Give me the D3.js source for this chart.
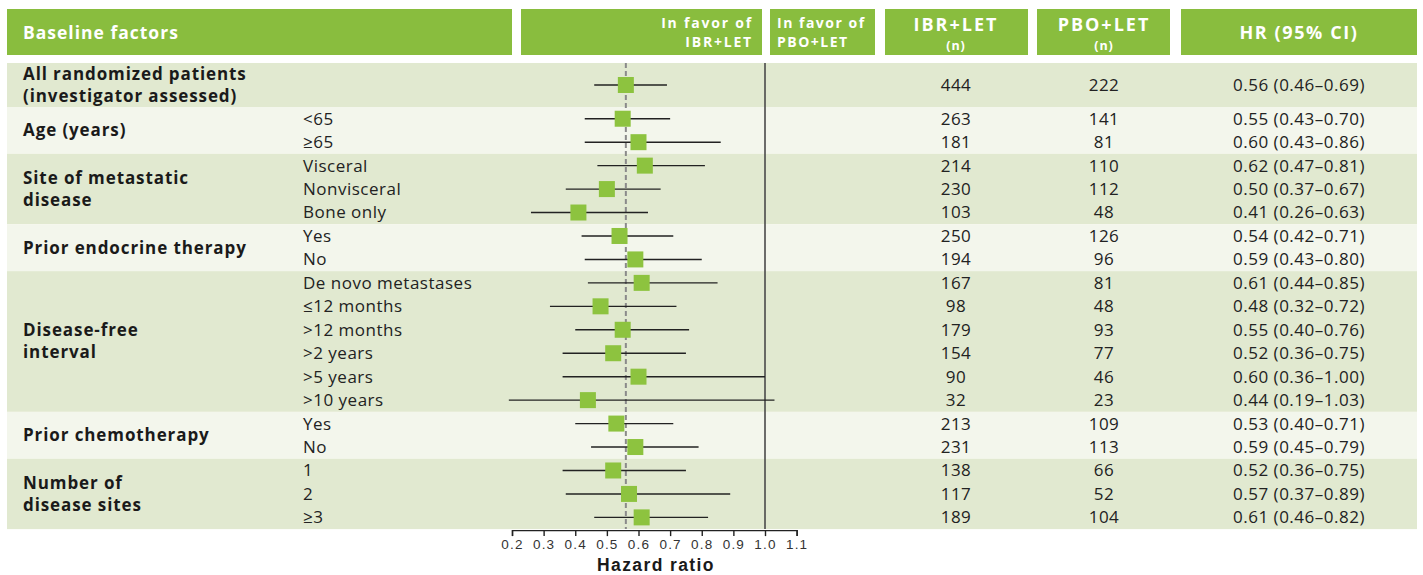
<!DOCTYPE html>
<html>
<head>
<meta charset="utf-8">
<script src="https://cdn.jsdelivr.net/npm/d3@7"></script>
<style>
  html, body { margin: 0; padding: 0; background: #fff; }
  svg { display: block; font-family: "Open Sans", "Noto Sans", sans-serif; }
</style>
</head>
<body>
<svg id="chart" width="1423" height="575"></svg>
<script>
// Forest plot: progression-free survival hazard ratios by baseline subgroup
const groupLabels = [
  ["All randomized patients", "(investigator assessed)"],
  ["Age (years)"],
  ["Site of metastatic", "disease"],
  ["Prior endocrine therapy"],
  ["Disease-free", "interval"],
  ["Prior chemotherapy"],
  ["Number of", "disease sites"]
];
const groupSizes = [1, 2, 3, 2, 6, 2, 3];
const subgroups = ["", "<65", "≥65", "Visceral", "Nonvisceral", "Bone only", "Yes", "No",
  "De novo metastases", "≤12 months", ">12 months", ">2 years", ">5 years", ">10 years",
  "Yes", "No", "1", "2", "≥3"];
const hazardRatio = [0.56, 0.55, 0.60, 0.62, 0.50, 0.41, 0.54, 0.59, 0.61, 0.48, 0.55, 0.52, 0.60, 0.44, 0.53, 0.59, 0.52, 0.57, 0.61];
const ciLow  = [0.46, 0.43, 0.43, 0.47, 0.37, 0.26, 0.42, 0.43, 0.44, 0.32, 0.40, 0.36, 0.36, 0.19, 0.40, 0.45, 0.36, 0.37, 0.46];
const ciHigh = [0.69, 0.70, 0.86, 0.81, 0.67, 0.63, 0.71, 0.80, 0.85, 0.72, 0.76, 0.75, 1.00, 1.03, 0.71, 0.79, 0.75, 0.89, 0.82];
const nIbrLet = [444, 263, 181, 214, 230, 103, 250, 194, 167, 98, 179, 154, 90, 32, 213, 231, 138, 117, 189];
const nPboLet = [222, 141, 81, 110, 112, 48, 126, 96, 81, 48, 93, 77, 46, 23, 109, 113, 66, 52, 104];
const overallHR = 0.56;
const axisTicks = [0.2, 0.3, 0.4, 0.5, 0.6, 0.7, 0.8, 0.9, 1.0, 1.1];

const headerGreen = "#89bd3e";
const squareGreen = "#8dc33f";
const bandDark = "#e1e9d0";
const bandLight = "#f3f6ec";

const svg = d3.select("#chart");

// Row geometry: first row holds a two-line label, the rest are single lines
const tableTop = 63, firstRowH = 44, rowH = 23.45;
const rowTop = [], rowMid = [];
let yy = tableTop;
subgroups.forEach((s, i) => {
  const h = i === 0 ? firstRowH : rowH;
  rowTop.push(yy); rowMid.push(yy + h / 2); yy += h;
});
const tableBottom = yy;

const x = d3.scaleLinear().domain([0.2, 1.0]).range([512, 765]);

// Header boxes
const headers = [
  { x0: 7, x1: 512 }, { x0: 521, x1: 762 }, { x0: 770, x1: 875 },
  { x0: 885, x1: 1028 }, { x0: 1037, x1: 1170 }, { x0: 1181, x1: 1417 }
];
svg.append("g").selectAll("rect").data(headers).join("rect")
  .attr("x", d => d.x0).attr("y", 9).attr("width", d => d.x1 - d.x0).attr("height", 46)
  .attr("fill", headerGreen);

const hdr = svg.append("g").attr("fill", "#fff").attr("font-weight", 700);
hdr.append("text").attr("x", 23).attr("y", 39).attr("font-size", 17.5).attr("letter-spacing", 1).text("Baseline factors");
[["In favor of", 28], ["IBR+LET", 47.3]].forEach(([t, y]) =>
  hdr.append("text").attr("x", 753).attr("y", y).attr("font-size", 14).attr("letter-spacing", 1.8)
    .attr("text-anchor", "end").text(t));
[["In favor of", 28], ["PBO+LET", 47.3]].forEach(([t, y]) =>
  hdr.append("text").attr("x", 777).attr("y", y).attr("font-size", 14).attr("letter-spacing", 1.5).text(t));
[["IBR+LET", 956], ["PBO+LET", 1104]].forEach(([t, cx]) => {
  hdr.append("text").attr("x", cx).attr("y", 31).attr("font-size", 18).attr("letter-spacing", 2)
    .attr("text-anchor", "middle").text(t);
  hdr.append("text").attr("x", cx).attr("y", 50).attr("font-size", 12.5).attr("letter-spacing", 1)
    .attr("text-anchor", "middle").text("(n)");
});
hdr.append("text").attr("x", 1299).attr("y", 39).attr("font-size", 18).attr("letter-spacing", 1.6)
  .attr("text-anchor", "middle").text("HR (95% CI)");

// Group bands and labels
let start = 0;
const groups = groupSizes.map((n, g) => {
  const top = rowTop[start];
  const bottom = start + n < rowTop.length ? rowTop[start + n] : tableBottom;
  const o = { g, top, bottom, labels: groupLabels[g] };
  start += n;
  return o;
});
svg.append("g").selectAll("rect").data(groups).join("rect")
  .attr("x", 7).attr("y", d => d.top).attr("width", 1410).attr("height", d => d.bottom - d.top)
  .attr("fill", d => d.g % 2 === 0 ? bandDark : bandLight);

const gl = svg.append("g").attr("font-weight", 700).attr("font-size", 17)
  .attr("letter-spacing", 0.9).attr("fill", "#1a1a1a");
groups.forEach(d => {
  const mid = (d.top + d.bottom) / 2;
  const lineGap = 22;
  const first = mid - (d.labels.length - 1) * lineGap / 2;
  d.labels.forEach((t, k) => {
    gl.append("text").attr("x", 23).attr("y", first + k * lineGap).attr("dy", "0.35em").text(t);
  });
});

// Subgroup labels and count / HR columns
const fmt = d3.format(".2f");
const tbl = svg.append("g").attr("font-size", 17).attr("letter-spacing", 0.5).attr("fill", "#222");
tbl.selectAll("text.sub").data(subgroups).join("text").attr("class", "sub")
  .attr("x", 303).attr("y", (d, i) => rowMid[i]).attr("dy", "0.35em").text(d => d);
tbl.selectAll("text.n1").data(nIbrLet).join("text").attr("class", "n1")
  .attr("x", 956).attr("y", (d, i) => rowMid[i]).attr("dy", "0.35em").attr("text-anchor", "middle").text(d => d);
tbl.selectAll("text.n2").data(nPboLet).join("text").attr("class", "n2")
  .attr("x", 1104).attr("y", (d, i) => rowMid[i]).attr("dy", "0.35em").attr("text-anchor", "middle").text(d => d);
tbl.selectAll("text.hr").data(hazardRatio).join("text").attr("class", "hr")
  .attr("x", 1299).attr("y", (d, i) => rowMid[i]).attr("dy", "0.35em").attr("text-anchor", "middle")
  .text((d, i) => `${fmt(d)} (${fmt(ciLow[i])}–${fmt(ciHigh[i])})`);

// Reference lines: no effect (HR = 1) and overall estimate
svg.append("line").attr("x1", x(1)).attr("x2", x(1)).attr("y1", tableTop).attr("y2", tableBottom)
  .attr("stroke", "#4a4a4a").attr("stroke-width", 1.6);
svg.append("line").attr("x1", x(overallHR)).attr("x2", x(overallHR)).attr("y1", tableTop).attr("y2", tableBottom)
  .attr("stroke", "#8a8a8a").attr("stroke-width", 2).attr("stroke-dasharray", "5,3");

// Confidence intervals and point estimates
const marks = svg.append("g");
marks.selectAll("line").data(hazardRatio).join("line")
  .attr("x1", (d, i) => x(ciLow[i])).attr("x2", (d, i) => x(ciHigh[i]))
  .attr("y1", (d, i) => rowMid[i]).attr("y2", (d, i) => rowMid[i])
  .attr("stroke", "#222").attr("stroke-width", 1.4);
const sq = 16;
marks.selectAll("rect").data(hazardRatio).join("rect")
  .attr("x", d => x(d) - sq / 2).attr("y", (d, i) => rowMid[i] - sq / 2)
  .attr("width", sq).attr("height", sq).attr("fill", squareGreen);

// Hazard ratio axis
const axisFont = "\"Liberation Sans\", Arial, sans-serif";
const axis = d3.axisBottom(x.copy().domain([0.2, 1.1]).range([x(0.2), x(1.1)]))
  .tickValues(axisTicks).tickFormat(d3.format(".1f")).tickSize(6).tickPadding(3);
const ax = svg.append("g").attr("transform", `translate(0,${tableBottom + 1})`).call(axis);
ax.select(".domain").attr("stroke", "#222").attr("stroke-width", 1.4);
ax.selectAll(".tick line").attr("stroke", "#222").attr("stroke-width", 1.4);
ax.selectAll(".tick text").attr("font-size", 13.5).attr("letter-spacing", 1.2).attr("fill", "#333")
  .attr("font-family", axisFont);
svg.append("text").attr("x", 656).attr("y", 571).attr("text-anchor", "middle")
  .attr("font-family", axisFont)
  .attr("font-size", 17.5).attr("font-weight", 700).attr("letter-spacing", 1.4)
  .attr("fill", "#1a1a1a").text("Hazard ratio");
</script>
</body>
</html>
